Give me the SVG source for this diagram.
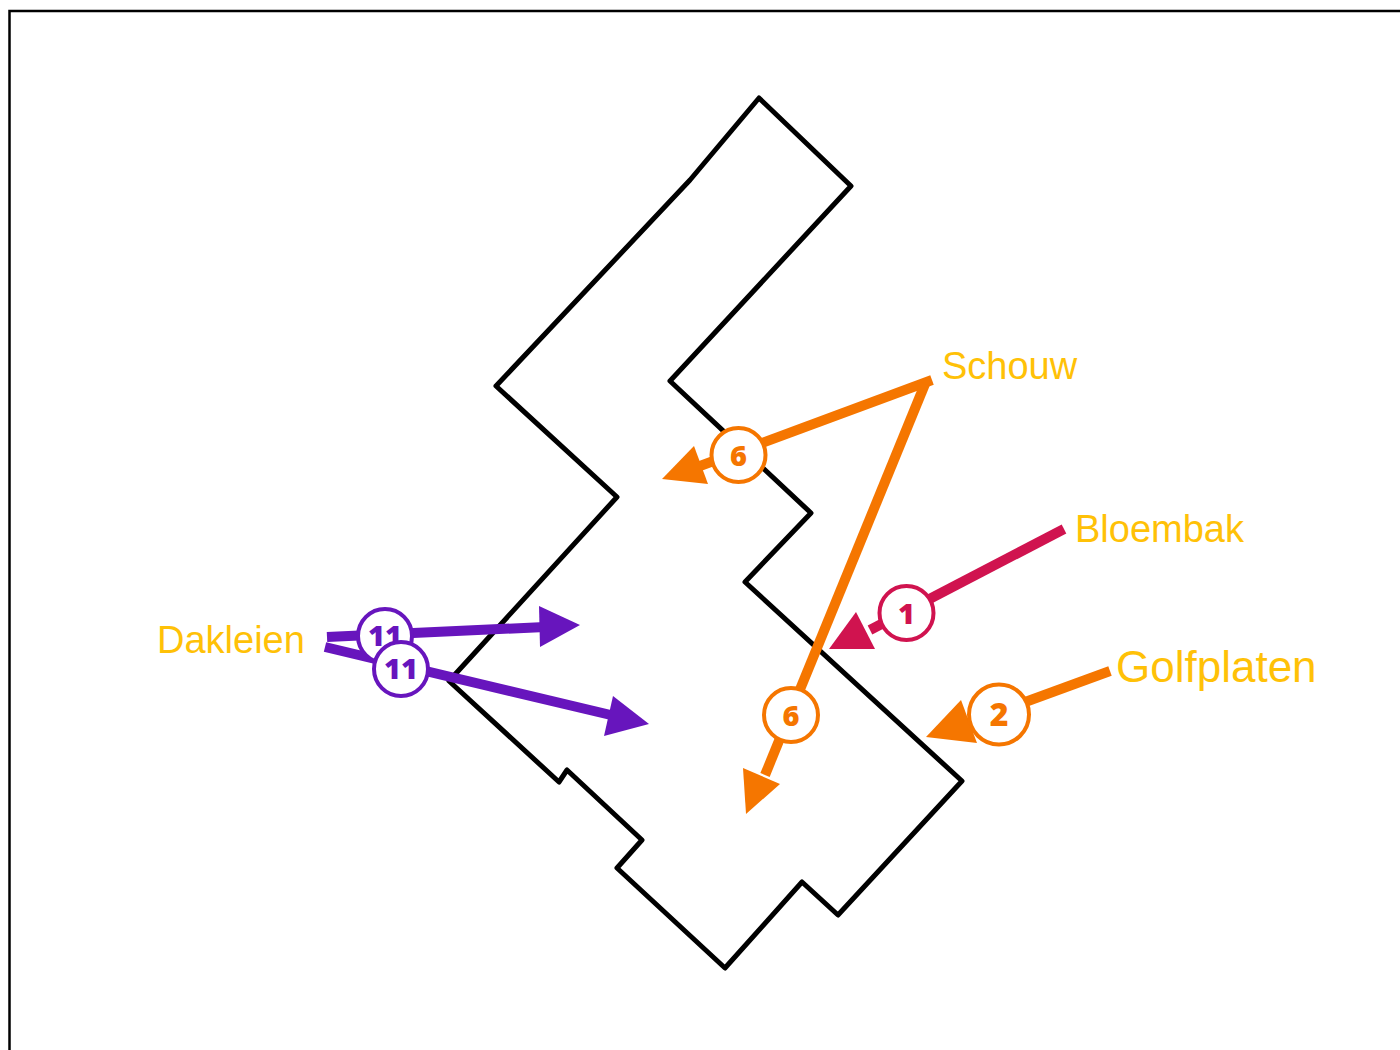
<svg xmlns="http://www.w3.org/2000/svg" width="1400" height="1050" viewBox="0 0 1400 1050">
<style>
.lbl{font-family:"Liberation Sans",Arial,sans-serif;fill:#ffc107}
.num{font-family:"Open Sans","Noto Sans",sans-serif;font-weight:800;font-size:29px;text-anchor:middle}
.bub{fill:#fff;stroke-width:4}
.o{stroke:#f57600;fill:none}.of{fill:#f57600}.ot{fill:#f57600}
.p{stroke:#6715bd;fill:none}.pf{fill:#6715bd}
.r{stroke:#d0134f;fill:none}.rf{fill:#d0134f}
</style>
<rect id="frame" x="9.5" y="11" width="1500" height="1200" fill="#fff" stroke="#000" stroke-width="2.5"/>
<g id="building"><path d="M759 98L851 186L670 381L811 513L745 582L962 781L838 915L802 882L725 968L617 868L642 840L567 770L559 782L449 681L617 497L496 386L690 180Z" fill="none" stroke="#000" stroke-width="5" stroke-linejoin="round"/></g>
<g id="connectors">
<path class="r" stroke-width="10" d="M1064 529L870 630"/><path class="rf" d="M829 649L856 612L875 649Z"/>
<path class="o" stroke-width="10" d="M1110 671L965 724"/><path class="of" d="M926 737L961 700L977 743Z"/>
<path class="o" stroke-width="10" d="M932 380L700 466"/><path class="of" d="M662 479L694 446L708 484Z"/>
<path class="o" stroke-width="10" d="M925 384L765 775"/><path class="of" d="M746 814L743 768L780 784Z"/>
<path class="p" stroke-width="10" d="M327 637L545 627"/><path class="pf" d="M580 625L539 606L540 647Z"/>
<path class="p" stroke-width="10" d="M325 647L615 716"/><path class="pf" d="M649 724L613 696L604 736Z"/>
</g>
<g id="badge-11a"><circle class="bub p" style="fill:#fff" cx="385" cy="636" r="27"/><text class="num pf" x="385" y="646">11</text></g>
<g id="badge-11b"><circle class="bub p" style="fill:#fff" cx="401" cy="669" r="27"/><text class="num pf" x="401" y="679">11</text></g>
<g id="badge-6a"><circle class="bub o" style="fill:#fff" cx="738.500" cy="455" r="27"/><text class="num ot" x="738.500" y="466">6</text></g>
<g id="badge-6b"><circle class="bub o" style="fill:#fff" cx="791" cy="715" r="27"/><text class="num ot" x="791" y="726">6</text></g>
<g id="badge-1"><circle class="bub r" style="fill:#fff" cx="906.500" cy="613" r="27"/><text class="num rf" x="906.500" y="624">1</text></g>
<g id="badge-2"><circle class="bub o" style="fill:#fff" cx="999" cy="714.500" r="30"/><text class="num ot" x="999" y="726" style="font-size:32px">2</text></g>
<g id="labels">
<text class="lbl" x="942" y="379" font-size="38">Schouw</text>
<text class="lbl" x="1075" y="542" font-size="38">Bloembak</text>
<text class="lbl" x="1116" y="682" font-size="44">Golfplaten</text>
<text class="lbl" x="157" y="653" font-size="38">Dakleien</text>
</g>
</svg>
